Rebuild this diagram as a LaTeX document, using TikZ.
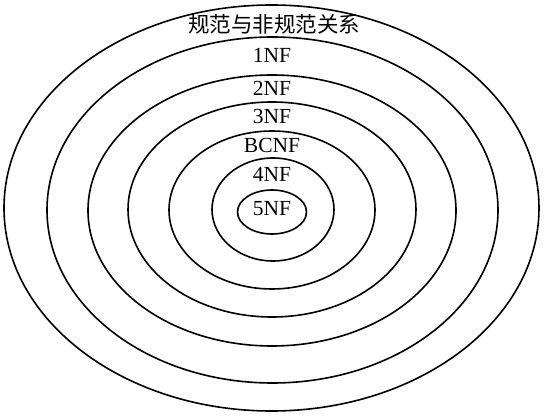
\documentclass[tikz,border=0pt]{standalone}
\usepackage{fontspec}
\setmainfont{Liberation Serif}
\newfontfamily\cjk{Noto Sans CJK SC}
\begin{document}
\begin{tikzpicture}[x=1pt,y=-1pt,
  ring/.style={draw=black,line width=1.6pt},
  lbl/.style={inner sep=0pt,font=\fontsize{21.5}{23}\selectfont},
  ttl/.style={inner sep=0pt,font=\cjk\fontsize{21.5}{23}\selectfont}]
\useasboundingbox[fill=white] (0,0) rectangle (547,417);
\draw[ring] (271.5,208) ellipse [x radius=267.5pt, y radius=203pt];
\draw[ring] (272.5,210) ellipse [x radius=225.5pt, y radius=173pt];
\draw[ring] (272,210.5) ellipse [x radius=184pt, y radius=135.5pt];
\draw[ring] (272,209.5) ellipse [x radius=144pt, y radius=107.5pt];
\draw[ring] (272,210) ellipse [x radius=103pt, y radius=79pt];
\draw[ring] (273,209.5) ellipse [x radius=61pt, y radius=51.5pt];
\draw[ring] (272,212) ellipse [x radius=34.5pt, y radius=22pt];
\node[ttl] (t0) at (274,24) {规范与非规范关系};
\node[lbl] (t1) at (272,55) {1NF};
\node[lbl] (t2) at (272,88) {2NF};
\node[lbl] (t3) at (272,116) {3NF};
\node[lbl] (t4) at (272,145) {BCNF};
\node[lbl] (t5) at (272,174) {4NF};
\node[lbl] (t6) at (272,209) {5NF};
\end{tikzpicture}
\end{document}
